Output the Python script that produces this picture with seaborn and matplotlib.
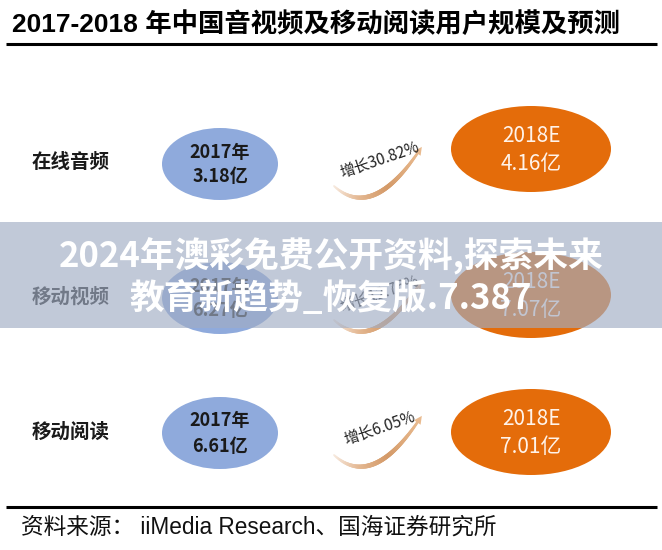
import numpy as np
import matplotlib
matplotlib.use("Agg")
import matplotlib.pyplot as plt
import seaborn as sns
from matplotlib.patches import Ellipse, Rectangle, Polygon
from matplotlib.collections import LineCollection

# ---- data ----
title = "2017-2018 年中国音视频及移动阅读用户规模及预测"
categories = ["在线音频", "移动视频", "移动阅读"]
users_2017 = [3.18, 6.27, 6.61]
users_2018 = [4.16, 7.07, 7.01]
growth = ["30.82%", "12.76%", "6.05%"]
label_2017 = "2017年"
label_2018 = "2018E"
source = "资料来源： iiMedia Research、国海证券研究所"
watermark = ["2024年澳彩免费公开资料,探索未来", "教育新趋势_恢复版.7.387"]

sns.set_theme(style="white")
plt.rcParams['font.family'] = ['Noto Sans CJK SC', 'DejaVu Sans']
latin_cjk = ['Liberation Sans', 'Noto Sans CJK SC']

W, H = 662, 550
fig = plt.figure(figsize=(W / 100, H / 100), dpi=100)
ax = fig.add_axes([0, 0, 1, 1])
ax.set_xlim(0, W)
ax.set_ylim(H, 0)
ax.axis("off")

# title and rules
ax.text(12, 24, title, fontsize=19, fontweight="bold", color="#000000",
        ha="left", va="center", family=latin_cjk)
ax.plot([6, 657], [43.5, 43.5], color="#000000", lw=2.2, solid_capstyle="butt")
ax.plot([6, 657], [507, 507], color="#000000", lw=2.2, solid_capstyle="butt")
ax.text(21, 527, source, fontsize=16.3, color="#111111", ha="left", va="center",
        family=latin_cjk)

blue = "#8FAADC"
orange = "#E46C0A"
row_y = [163, 297, 432]
orange_dy = [-14, -2, 0]

cmap = matplotlib.colors.LinearSegmentedColormap.from_list(
    "arc", ["#F7EADF", "#E4B892", "#D49A68", "#E9BB90"])

for i, cat in enumerate(categories):
    y = row_y[i]
    ax.text(32, y, cat, fontsize=14, fontweight="bold", color="#1a1a1a",
            ha="left", va="center")
    # 2017 ellipse
    ax.add_patch(Ellipse((220, y + 1), 116, 72, facecolor=blue, edgecolor="none"))
    ax.text(220, y - 11, label_2017, fontsize=13, fontweight="bold",
            color="#1a1a1a", ha="center", va="center")
    ax.text(220, y + 14, f"{users_2017[i]:.2f}亿", fontsize=13, fontweight="bold",
            color="#1a1a1a", ha="center", va="center")
    # 2018 ellipse
    oy = y + orange_dy[i]
    ax.add_patch(Ellipse((531, oy), 160, 86, facecolor=orange, edgecolor="none"))
    ax.text(531, oy - 13, label_2018, fontsize=15, color="#FFF3EA",
            ha="center", va="center")
    ax.text(531, oy + 15, f"{users_2018[i]:.2f}亿", fontsize=15, color="#FFF3EA",
            ha="center", va="center")
    # growth arc (quadratic bezier with gradient)
    p0 = np.array([334, y + 23])
    p1 = np.array([372, y + 58])
    p2 = np.array([419, y - 12])
    t = np.linspace(0, 1, 90)[:, None]
    pts = (1 - t) ** 2 * p0 + 2 * (1 - t) * t * p1 + t ** 2 * p2
    segs = np.stack([pts[:-1], pts[1:]], axis=1)
    tt = t[:-1, 0]
    widths = 0.6 + 2.8 * np.sin(np.pi * np.clip(tt * 0.8 + 0.08, 0, 1))
    lc = LineCollection(segs, colors=cmap(tt), linewidths=widths, capstyle="round")
    ax.add_collection(lc)
    d = pts[-1] - pts[-4]
    d = d / np.linalg.norm(d)
    n = np.array([-d[1], d[0]])
    tip = pts[-1] + d * 5
    ax.add_patch(Polygon([tip, pts[-1] - d * 3 + n * 4, pts[-1] - d * 3 - n * 4],
                         closed=True, facecolor="#E9BB90", edgecolor="none"))
    ax.text(380, y - 3, f"增长{growth[i]}", fontsize=11, color="#222222",
            rotation=19, ha="center", va="center", rotation_mode="anchor")

# watermark band
ax.add_patch(Rectangle((0, 222), W, 106, facecolor=(0.63, 0.68, 0.77),
                       alpha=0.65, edgecolor="none", zorder=5))
ax.text(331, 256, watermark[0], fontsize=25, fontweight="bold", color="white",
        ha="center", va="center", zorder=6)
ax.text(331, 298, watermark[1], fontsize=25, fontweight="bold", color="white",
        ha="center", va="center", zorder=6)

fig.savefig("out.png", dpi=100)
